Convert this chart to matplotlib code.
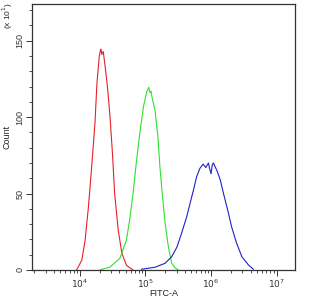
import numpy as np
import matplotlib
matplotlib.use("Agg")
import matplotlib.pyplot as plt
from matplotlib.ticker import LogLocator, MultipleLocator, FixedLocator, NullFormatter

plt.rcParams['font.family'] = ['Liberation Sans', 'DejaVu Sans']

# curves: log10(FITC-A) and count (x10)
red_log = [3.95, 4.03, 4.08, 4.13, 4.18, 4.23, 4.26, 4.295, 4.31, 4.32, 4.335, 4.356,
           4.38, 4.42, 4.46, 4.50, 4.53, 4.585, 4.64, 4.71, 4.81]
red_cnt = [0, 6.5, 19.6, 41, 67.6, 96, 122, 139.5, 143, 144.5, 141, 143,
           135, 120, 100, 74, 50, 26, 11, 3, 0]

green_log = [4.305, 4.46, 4.61, 4.71, 4.76, 4.81, 4.865, 4.92, 4.97, 5.02, 5.05, 5.07,
             5.085, 5.10, 5.145, 5.19, 5.22, 5.26, 5.30, 5.35, 5.40, 5.45, 5.50]
green_cnt = [0, 2, 7.6, 19.6, 33, 50, 72, 91.6, 107, 116.6, 119.5, 116,
             117, 113, 104.6, 87, 67.6, 48, 30.5, 15, 4.4, 1.5, 0]

blue_log = [4.94, 5.145, 5.30, 5.40, 5.48, 5.55, 5.63, 5.68, 5.73, 5.78, 5.83, 5.88,
            5.92, 5.96, 5.98, 6.00, 6.02, 6.035, 6.09, 6.14, 6.19, 6.255, 6.315, 6.39,
            6.47, 6.57, 6.645]
blue_cnt = [0.5, 1.8, 4.4, 8.7, 15, 24, 35, 43.6, 52, 61, 66.5, 69.3,
            67, 70, 66, 63, 69, 70, 65, 59, 50, 39, 28, 17.5,
            8.7, 3.3, 0.5]

y_major = [0, 50, 100, 150]

fig = plt.figure(figsize=(3.11, 3.00), dpi=100)
ax = fig.add_axes([32 / 311, 30 / 300, 263 / 311, 266 / 300])

ax.plot(10 ** np.array(red_log), red_cnt, color='#e8202a', lw=0.8)
ax.plot(10 ** np.array(green_log), green_cnt, color='#2ee02e', lw=0.8)
ax.plot(10 ** np.array(blue_log), blue_cnt, color='#2020c8', lw=0.8)

ax.set_xscale('log')
ax.set_xlim(10 ** 3.27, 10 ** 7.28)
ax.set_ylim(0, 174)

ax.xaxis.set_major_locator(FixedLocator([1e4, 1e5, 1e6, 1e7]))
ax.xaxis.set_minor_locator(LogLocator(base=10, subs=np.arange(2, 10), numticks=20))
ax.xaxis.set_minor_formatter(NullFormatter())
ax.set_xticklabels([r'$10^{4}$', r'$10^{5}$', r'$10^{6}$', r'$10^{7}$'])

ax.yaxis.set_major_locator(FixedLocator(y_major))
ax.yaxis.set_minor_locator(MultipleLocator(10))
ax.set_yticklabels([str(v) for v in y_major], rotation=90, va='center')

ax.tick_params(which='major', length=4, width=0.7, labelsize=6.5, colors='#333333', pad=1.5)
ax.tick_params(which='minor', length=2.5, width=0.6, colors='#333333')
for s in ax.spines.values():
    s.set_color('#333333')
    s.set_linewidth(0.9)

ax.set_xlabel('FITC-A', fontsize=6.5, color='#222222')
ax.xaxis.set_label_coords(0.5, -0.07)
ax.set_ylabel('Count', fontsize=6.5, labelpad=3, color='#222222')
fig.text(8 / 311, 1 - 16 / 300, r'(x 10$^{1}$)', rotation=90, fontsize=6,
         ha='center', va='center', color='#222222')

fig.savefig('out.png', dpi=100)
